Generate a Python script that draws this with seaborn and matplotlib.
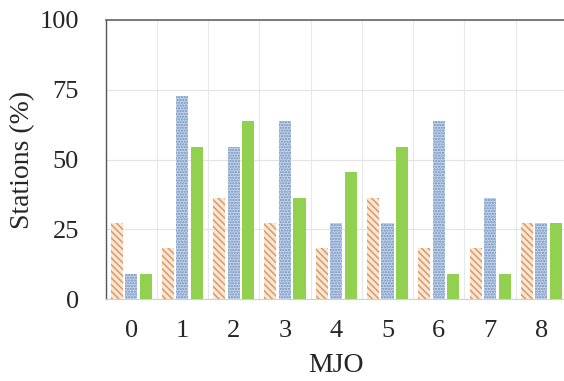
import numpy as np
import pandas as pd
import matplotlib
matplotlib.use("Agg")
import matplotlib.pyplot as plt
import seaborn as sns

categories = ["0", "1", "2", "3", "4", "5", "6", "7", "8"]
series_names = ["A", "B", "C"]
series_a = [27.27, 18.18, 36.36, 27.27, 18.18, 36.36, 18.18, 18.18, 27.27]
series_b = [9.09, 72.73, 54.55, 63.64, 27.27, 27.27, 63.64, 36.36, 27.27]
series_c = [9.09, 54.55, 63.64, 36.36, 45.45, 54.55, 9.09, 9.09, 27.27]
yticks = [0, 25, 50, 75, 100]

df = pd.DataFrame({
    "MJO": categories * 3,
    "value": series_a + series_b + series_c,
    "series": [series_names[0]] * 9 + [series_names[1]] * 9 + [series_names[2]] * 9,
})

sns.set_style("white")
plt.rcParams["font.family"] = ["Liberation Serif", "DejaVu Serif"]
plt.rcParams["hatch.linewidth"] = 1.1

fig = plt.figure(figsize=(5.64, 3.81), dpi=100)
ax = fig.add_axes([105.5 / 564, 1 - 299 / 381, (567 - 105.5) / 564, (299 - 20) / 381])

face = ["#f8e6d6", "#c6d5ea", "#92d050"]
edge = ["#dc9a64", "#6f8fbf", "#92d050"]
hatches = ["\\\\\\\\\\", "......", ""]

sns.barplot(data=df, x="MJO", y="value", hue="series", order=categories,
            hue_order=series_names, width=0.85, gap=0.17, ax=ax,
            legend=False, palette=face, linewidth=0, saturation=1)

for i, cont in enumerate(ax.containers):
    for bar in cont:
        bar.set_facecolor(face[i])
        bar.set_edgecolor(edge[i])
        bar.set_hatch(hatches[i])
        bar.set_linewidth(0)

ax.set_ylim(0, 100)
ax.set_xlim(-0.5, 8.5)
ax.set_yticks(yticks)
ax.set_yticklabels([str(t) for t in yticks])
ax.yaxis.grid(True, color="#e3e3e3", linewidth=0.8)
ax.set_axisbelow(True)
for b in np.arange(0.5, 8.5, 1.0):
    ax.axvline(b, color="#e8e8e8", linewidth=0.8, zorder=0)

ax.spines["left"].set_color("#555555")
ax.spines["left"].set_linewidth(1.0)
ax.spines["top"].set_color("#666666")
ax.spines["top"].set_linewidth(1.2)
ax.spines["bottom"].set_color("#d0d0d0")
ax.spines["right"].set_visible(False)

ax.tick_params(axis="both", length=0, labelsize=19)
ax.tick_params(axis="x", pad=15)
ax.tick_params(axis="y", pad=19)
ax.set_xlabel("MJO", fontsize=20, labelpad=8)
ax.set_ylabel("Stations (%)", fontsize=20, labelpad=3)

fig.savefig("out.png", dpi=100)
